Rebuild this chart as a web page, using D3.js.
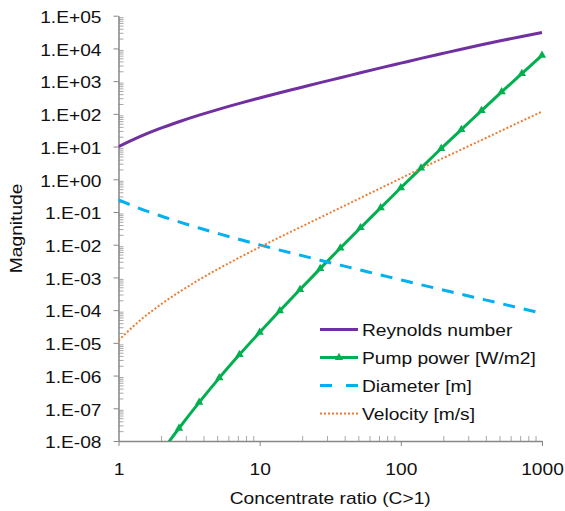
<!DOCTYPE html>
<html>
<head>
<meta charset="utf-8">
<script src="https://cdn.jsdelivr.net/npm/d3@7"></script>
<style>
  body { margin: 0; background: #fff; }
  svg { display: block; font-family: "Liberation Sans", Arial, sans-serif; }
  .axis path, .axis line { stroke: #878787; }
  .axis text { font-size: 16px; fill: #111; }
  .minor line { stroke: #a8a8a8; }
  .line { fill: none; }
  .lbl { font-size: 16px; fill: #111; }
</style>
</head>
<body>
<svg id="chart"></svg>
<script>
// concentrate ratio values (x), 7 steps per decade
const ratio = [1, 1.389, 1.931, 2.683, 3.728, 5.179, 7.197, 10, 13.89, 19.31, 26.83,
  37.28, 51.79, 71.97, 100, 138.9, 193.1, 268.3, 372.8, 517.9, 719.7, 1000]

const reynolds = [10, 19.5, 34.7, 57.5, 91.2, 140, 209, 305, 442, 631, 902,
  1270, 1800, 2540, 3550, 4950, 6840, 9440, 12900, 17400, 23200, 30500]

const pumpPower = [5.0e-11, 4.47e-10, 3.55e-9, 2.45e-8, 1.51e-7, 8.5e-7, 4.37e-6, 2.09e-5, 9.55e-5, 4.27e-4, 1.86e-3,
  7.94e-3, 0.0331, 0.135, 0.55, 2.19, 8.71, 33.1, 126, 468, 1700, 6170]

const diameter = [0.234, 0.132, 0.0794, 0.0501, 0.0324, 0.0214, 0.0145, 0.00989, 0.00684, 0.00479, 0.00335,
  0.00237, 0.00168, 0.00119, 8.4e-4, 5.96e-4, 4.27e-4, 3.05e-4, 2.19e-4, 1.57e-4, 1.12e-4, 8.0e-5]

const velocity = [1.17e-5, 4.47e-5, 1.35e-4, 3.55e-4, 8.5e-4, 1.9e-3, 4.07e-3, 8.4e-3, 0.017, 0.0339, 0.0676,
  0.135, 0.269, 0.537, 1.07, 2.14, 4.17, 8.13, 15.8, 30.9, 60.3, 117]

const xTicks = [1, 10, 100, 1000]
const yTicks = [1e-8, 1e-7, 1e-6, 1e-5, 1e-4, 1e-3, 1e-2, 1e-1, 1e0, 1e1, 1e2, 1e3, 1e4, 1e5]

const seriesNames = ['Reynolds number', 'Pump power [W/m2]', 'Diameter [m]', 'Velocity [m/s]']

var width = 565, height = 511
var margin = {top: 15.7, right: 23, bottom: 70, left: 118.5}
var sx = 1.2 // text runs a bit wide in the original

var svg = d3.select('#chart')
  .attr('width', width)
  .attr('height', height)

var x = d3.scaleLog().domain([1, 1000]).range([margin.left, width - margin.right])
var y = d3.scaleLog().domain([1e-8, 1e5]).range([height - margin.bottom, margin.top])

var fmt = function(d) {
  var e = Math.round(Math.log10(d))
  return '1.E' + (e < 0 ? '-' : '+') + String(Math.abs(e)).padStart(2, '0')
}

// minor ticks
var minorX = [], minorY = []
xTicks.slice(0, -1).forEach(function(t) {
  for (var i = 2; i < 10; i++) minorX.push(t * i)
})
yTicks.slice(0, -1).forEach(function(t) {
  for (var i = 2; i < 10; i++) minorY.push(t * i)
})

svg.append('g')
  .attr('class', 'axis minor')
  .attr('transform', 'translate(0,' + y.range()[0] + ')')
  .call(d3.axisBottom(x).tickValues(minorX).tickSize(-5).tickFormat(''))
  .select('.domain').remove()

svg.append('g')
  .attr('class', 'axis minor')
  .attr('transform', 'translate(' + x.range()[0] + ',0)')
  .call(d3.axisLeft(y).tickValues(minorY).tickSize(-5).tickFormat(''))
  .select('.domain').remove()

// major axes
var xAxis = svg.append('g')
  .attr('class', 'axis')
  .attr('transform', 'translate(0,' + y.range()[0] + ')')
  .call(d3.axisBottom(x).tickValues(xTicks).tickSizeInner(5).tickSizeOuter(0).tickFormat(d3.format('d')))
xAxis.select('.domain').attr('stroke-width', 1.5)
xAxis.selectAll('text')
  .attr('y', 34).attr('dy', 0)
  .attr('transform', 'scale(' + sx + ',1)')

var yAxis = svg.append('g')
  .attr('class', 'axis')
  .attr('transform', 'translate(' + x.range()[0] + ',0)')
  .call(d3.axisLeft(y).tickValues(yTicks).tickSizeInner(5).tickSizeOuter(0).tickFormat(fmt))
yAxis.select('.domain').attr('stroke-width', 1.5)
yAxis.selectAll('text')
  .attr('x', -17 / sx).attr('dy', '0.42em')
  .attr('transform', 'scale(' + sx + ',1)')

// clip to plot area
svg.append('clipPath').attr('id', 'plot')
  .append('rect')
  .attr('x', x.range()[0]).attr('y', y.range()[1])
  .attr('width', x.range()[1] - x.range()[0] + 6)
  .attr('height', y.range()[0] - y.range()[1])

var plot = svg.append('g').attr('clip-path', 'url(#plot)')

function rows(vals) {
  return ratio.map(function(c, i) { return {c: c, v: vals[i]} })
}

var line = d3.line()
  .x(function(d) { return x(d.c) })
  .y(function(d) { return y(d.v) })
  .curve(d3.curveMonotoneX)

var styles = [
  {data: reynolds, color: '#7030a0', width: 3, dash: null},
  {data: pumpPower, color: '#00b050', width: 3, dash: null},
  {data: diameter, color: '#00b0f0', width: 3, dash: '12,9'},
  {data: velocity, color: '#ec7c30', width: 2, dash: '2,2'}
]

styles.forEach(function(s) {
  plot.append('path')
    .datum(rows(s.data))
    .attr('class', 'line')
    .attr('stroke', s.color)
    .attr('stroke-width', s.width)
    .attr('stroke-dasharray', s.dash)
    .attr('d', line)
})

var tri = d3.symbol().type(d3.symbolTriangle).size(30)

plot.selectAll('.dot')
  .data(rows(pumpPower))
  .enter().append('path')
    .attr('class', 'dot')
    .attr('fill', '#00b050')
    .attr('d', tri)
    .attr('transform', function(d) { return 'translate(' + x(d.c) + ',' + y(d.v) + ')' })

// legend
var legend = svg.append('g').attr('transform', 'translate(320,329.5)')
seriesNames.forEach(function(name, i) {
  var s = styles[i]
  var g = legend.append('g').attr('transform', 'translate(0,' + (i * 28) + ')')
  g.append('line')
    .attr('x1', 0).attr('x2', 38)
    .attr('stroke', s.color)
    .attr('stroke-width', s.width)
    .attr('stroke-dasharray', i == 2 ? '12,14' : s.dash)
  if (i == 1) g.append('path').attr('fill', s.color).attr('d', tri).attr('transform', 'translate(19,0)')
  g.append('text')
    .attr('class', 'lbl')
    .attr('transform', 'translate(42,6) scale(' + sx + ',1)')
    .text(name)
})

// axis titles
svg.append('text')
  .attr('class', 'lbl')
  .attr('text-anchor', 'middle')
  .attr('transform', 'translate(' + ((x.range()[0] + x.range()[1]) / 2) + ',504) scale(' + sx + ',1)')
  .text('Concentrate ratio (C>1)')

svg.append('text')
  .attr('class', 'lbl')
  .attr('text-anchor', 'middle')
  .attr('transform', 'translate(22,' + ((y.range()[0] + y.range()[1]) / 2) + ') rotate(-90) scale(' + sx + ',1)')
  .text('Magnitude')
</script>
</body>
</html>
